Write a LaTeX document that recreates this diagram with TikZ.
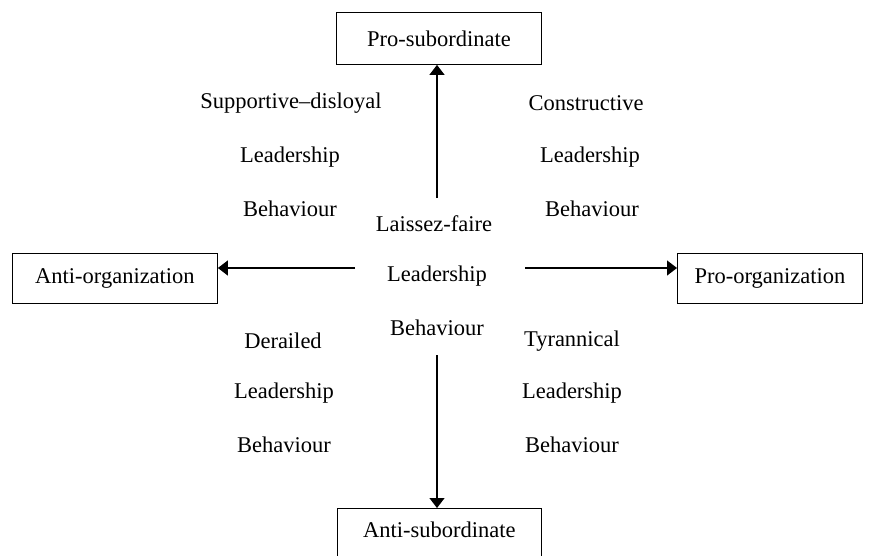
\documentclass[tikz,border=0pt]{standalone}
\usepackage{fontspec}
\setmainfont{Liberation Serif}
\usetikzlibrary{arrows.meta}
\begin{document}
\begin{tikzpicture}[x=1pt,y=-1pt,
  box/.style={draw,line width=0.9pt,inner sep=0pt,anchor=north west},
  lbl/.style={inner sep=0pt,font=\fontsize{22.5}{27}\selectfont},
  arr/.style={line width=1.2pt,-{Triangle[length=10pt,width=15pt]}}]
\useasboundingbox (0,0) rectangle (871,555);
\node[box,minimum width=205pt,minimum height=52pt] (ps) at (336,12) {};
\node[lbl] at (ps.center) {Pro-subordinate};
\node[box,minimum width=205pt,minimum height=50pt] (ao) at (12,253) {};
\node[lbl] at (ao.center) {Anti-organization};
\node[box,minimum width=185pt,minimum height=50pt] (po) at (677,253) {};
\node[lbl] at (po.center) {Pro-organization};
\node[box,minimum width=204pt,minimum height=50pt] (as) at (337,508) {};
\node[lbl] at ([yshift=-22pt]as.north) {Anti-subordinate};
\coordinate (ct) at (437,198);
\coordinate (cb) at (437,355);
\coordinate (cl) at (355,268);
\coordinate (cr) at (525,268);
\draw[arr] (ct) -- (ct |- ps.south);
\draw[arr] (cb) -- (cb |- as.north);
\draw[arr] (cl) -- (ao.east |- cl);
\draw[arr] (cr) -- (po.west |- cr);
\node[lbl] (t1) at (291,103) {Supportive–disloyal};
\node[lbl] (t2) at (290,157) {Leadership};
\node[lbl] (t3) at (290,209) {Behaviour};
\node[lbl] (t4) at (586,103) {Constructive};
\node[lbl] (t5) at (590,157) {Leadership};
\node[lbl] (t6) at (592,209) {Behaviour};
\node[lbl] (t7) at (434,224) {Laissez-faire};
\node[lbl] (t8) at (437,276) {Leadership};
\node[lbl] (t9) at (437,328) {Behaviour};
\node[lbl] (t10) at (283,341) {Derailed};
\node[lbl] (t11) at (284,393) {Leadership};
\node[lbl] (t12) at (284,445) {Behaviour};
\node[lbl] (t13) at (572,341) {Tyrannical};
\node[lbl] (t14) at (572,393) {Leadership};
\node[lbl] (t15) at (572,445) {Behaviour};
\end{tikzpicture}
\end{document}
